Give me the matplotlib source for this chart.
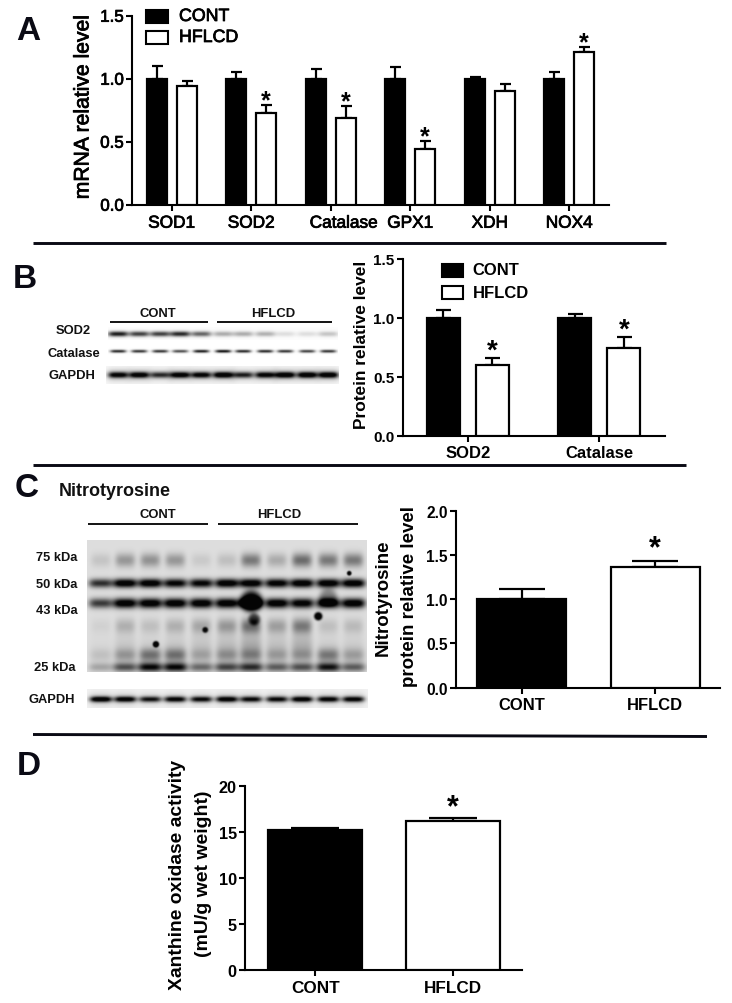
import numpy as np
import matplotlib
matplotlib.use("Agg")
import matplotlib.pyplot as plt
import matplotlib.patheffects as pe
from matplotlib.transforms import ScaledTranslation

plt.rcParams['font.family'] = ['Liberation Sans', 'DejaVu Sans']

# ---------- data ----------
groups = ['CONT', 'HFLCD']
a_genes = ['SOD1', 'SOD2', 'Catalase', 'GPX1', 'XDH', 'NOX4']
a_cont = [1.0, 1.0, 1.0, 1.0, 1.0, 1.0]
a_cont_top = [1.10, 1.05, 1.075, 1.09, 1.01, 1.055]
a_hflcd = [0.945, 0.73, 0.69, 0.44, 0.905, 1.21]
a_hflcd_top = [0.985, 0.79, 0.78, 0.505, 0.96, 1.25]
a_sig = [False, True, True, True, False, True]
a_ticks = [0.0, 0.5, 1.0, 1.5]

b_proteins = ['SOD2', 'Catalase']
b_cont = [1.0, 1.0]
b_cont_top = [1.065, 1.035]
b_hflcd = [0.60, 0.74]
b_hflcd_top = [0.66, 0.84]
b_sig = [True, True]
b_ticks = [0.0, 0.5, 1.0, 1.5]

c_values = [1.0, 1.365]
c_top = [1.11, 1.435]
c_sig = [False, True]
c_ticks = [0.0, 0.5, 1.0, 1.5, 2.0]

d_values = [15.2, 16.2]
d_top = [15.4, 16.5]
d_sig = [False, True]
d_ticks = [0, 5, 10, 15, 20]

# blot band strengths per lane
b_sod2 = [.9, .75, .75, .85, .6, .32, .32, .3, .12, .12, .22]
b_catalase = [.85, .8, .8, .7, .9, .95, .85, .85, .8, .75, .8]
b_gapdh = [.9, .95, .7, .95, .9, 1, .75, .9, 1, 1, 1]
n_75 = [.10, .28, .30, .28, .08, .12, .40, .20, .45, .40, .40]
n_50 = [.7, 1, 1, .9, .9, 1, 1, .95, 1, 1, 1]
n_43 = [.65, 1, 1, 1, 1, 1, 1, 1, .95, 1, 1]
n_35 = [.05, .18, .12, .18, .22, .28, .45, .25, .40, .12, .14]
n_25 = [.22, .55, .85, .85, .45, .6, .7, .5, .55, .8, .5]
n_gapdh = [1, .95, .8, .9, .85, .95, .85, .85, .95, .9, .9]

INK = '#0a0a14'
SEMI = [pe.withStroke(linewidth=0.55, foreground='black')]
W, H = 732, 1004
fig = plt.figure(figsize=(W / 100, H / 100), dpi=100)


def axes_px(l, t, r, b):
    return fig.add_axes([l / W, 1 - b / H, (r - l) / W, (b - t) / H])


def style(ax, ticks, tick_fs, lab_fs, weight, fmt, pad):
    for s in ['top', 'right']:
        ax.spines[s].set_visible(False)
    for s in ['left', 'bottom']:
        ax.spines[s].set_linewidth(1.5)
        ax.spines[s].set_color('black')
    ax.set_yticks(ticks)
    ax.set_yticklabels([fmt % t for t in ticks], fontsize=tick_fs, fontweight=weight)
    ax.tick_params(axis='both', width=1.5, length=4.5, pad=1.5, color='black')
    ax.tick_params(axis='x', labelsize=lab_fs, pad=pad)
    for t in ax.get_xticklabels():
        t.set_fontweight(weight)
    if weight == 'normal':
        for t in ax.get_xticklabels() + ax.get_yticklabels():
            t.set_path_effects(SEMI)
    ax.patch.set_alpha(0)


def bars(ax, xs, vals, tops, white, width, cap_px, lw_px=2.2):
    lw = lw_px * 0.72
    low = np.zeros(len(vals))
    up = np.array(tops) - np.array(vals)
    ax.errorbar(xs, vals, yerr=[low, up], fmt='none', ecolor='black', elinewidth=lw,
                capsize=cap_px * 0.72, capthick=lw, zorder=2)
    ax.bar(xs, vals, width=width, facecolor='white' if white else 'black',
           edgecolor='black', linewidth=lw, zorder=3)


def stars(ax, xs, tops, sig, gap_px, fs):
    for x, t, s in zip(xs, tops, sig):
        if s:
            ax.annotate('*', (x, t), xytext=(0, (gap_px - 0.6 * fs / 0.72) * 0.72),
                        textcoords='offset points', ha='center', va='baseline',
                        fontsize=fs, fontweight='bold', color='black', annotation_clip=False)


# ---------- Panel A ----------
axA = axes_px(132, 16.7, 609, 205.7)
xa = np.arange(len(a_genes))
bars(axA, xa - 0.188, a_cont, a_cont_top, False, 0.25, 5.5)
bars(axA, xa + 0.188, a_hflcd, a_hflcd_top, True, 0.25, 5.5)
axA.set_xlim(-0.5, 5.5)
axA.set_ylim(0, 1.5)
axA.set_xticks(xa)
axA.set_xticklabels(a_genes)
style(axA, a_ticks, 12.2, 12.4, 'normal', '%.1f', 3.4)
for lab, name in zip(axA.get_xticklabels(), a_genes):
    if name == 'Catalase':
        lab.set_transform(lab.get_transform() + ScaledTranslation(13 / 100, 0, fig.dpi_scale_trans))
stars(axA, xa + 0.188, a_hflcd_top, a_sig, 13, 18)

# ---------- Panel B chart ----------
axB = axes_px(402.7, 259.7, 665, 436.7)
xb = np.arange(len(b_proteins))
bars(axB, xb - 0.187, b_cont, b_cont_top, False, 0.25, 7.5)
bars(axB, xb + 0.187, b_hflcd, b_hflcd_top, True, 0.25, 7.5)
axB.set_xlim(-0.496, 1.5)
axB.set_ylim(0, 1.5)
axB.set_xticks(xb)
axB.set_xticklabels(b_proteins)
style(axB, b_ticks, 11, 12, 'bold', '%.1f', 2.4)
stars(axB, xb + 0.187, b_hflcd_top, b_sig, 16.5, 20)

# ---------- Panel C chart ----------
axC = axes_px(456, 511.7, 720, 688.7)
xc = np.arange(len(groups))
bars(axC, xc[:1], c_values[:1], c_top[:1], False, 0.667, 22.8)
bars(axC, xc[1:], c_values[1:], c_top[1:], True, 0.667, 22.8)
axC.set_xlim(-0.492, 1.487)
axC.set_ylim(0, 2.0)
axC.set_xticks(xc)
axC.set_xticklabels(groups)
style(axC, c_ticks, 11.2, 11.9, 'bold', '%.1f', 2.2)
stars(axC, xc, c_top, c_sig, 22.5, 22)

# ---------- Panel D chart ----------
axD = axes_px(245, 786.7, 522, 971)
xd = np.arange(len(groups))
bars(axD, xd[:1], d_values[:1], d_top[:1], False, 0.68, 24)
bars(axD, xd[1:], d_values[1:], d_top[1:], True, 0.68, 24)
axD.set_xlim(-0.508, 1.5)
axD.set_ylim(0, 20)
axD.set_xticks(xd)
axD.set_xticklabels(groups)
style(axD, d_ticks, 11.7, 12.3, 'bold', '%d', 2.4)
stars(axD, xd, d_top, d_sig, 21, 22)

# ---------- overlay in pixel coordinates ----------
ov = fig.add_axes([0, 0, 1, 1], zorder=-1)
ov.set_xlim(0, W)
ov.set_ylim(H, 0)
ov.axis('off')
top = fig.add_axes([0, 0, 1, 1], zorder=10)
top.set_xlim(0, W)
top.set_ylim(H, 0)
top.axis('off')
top.patch.set_alpha(0)


def blot(x0, x1, y0, y1, layers, bg=0.0, spots=()):
    X, Y = np.meshgrid(np.arange(x0, x1, 0.5), np.arange(y0, y1, 0.5))
    img = np.full(X.shape, float(bg))
    for lanes, strengths, cy, w, h in layers:
        for cx, s in zip(lanes, strengths):
            img += s * np.exp(-((X - cx) / w) ** 4 - ((Y - cy) / h) ** 2)
    for cx, cy, r, s in spots:
        img += s * np.exp(-(((X - cx) ** 2 + (Y - cy) ** 2) / r ** 2) ** 2)
    ov.imshow(1 - np.clip(img, 0, 0.98), cmap='gray', vmin=0, vmax=1, aspect='auto',
              extent=[x0, x1, y1, y0], interpolation='bilinear')
    ov.set_xlim(0, W)
    ov.set_ylim(H, 0)


# Panel B blot
lanes_b = [118, 139, 160, 180, 201, 223, 243, 265, 285, 307, 328]
blot(108, 338, 328, 341, [(lanes_b, b_sod2, 334.7, 10, 2.6)], bg=0.01)
blot(108, 338, 346, 358, [(lanes_b, b_catalase, 352, 8, 1.5)])
blot(106, 339, 367, 385, [(lanes_b, b_gapdh, 375.7, 10, 3.0),
                          (lanes_b, [v * 0.2 for v in b_gapdh], 375.7, 12, 7)], bg=0.02)

# Panel C blot
lanes_c = [100.7, 125, 150, 175, 201, 226.7, 250.7, 276.7, 301.7, 328, 353]
blot(87, 367, 541, 673, [
    (lanes_c, n_75, 561, 10, 7),
    (lanes_c, n_50, 584, 12, 4.5),
    (lanes_c, n_43, 604, 12, 5.0),
    (lanes_c, n_35, 627, 10, 8),
    (lanes_c, [v * 0.4 for v in n_35], 645, 11, 10),
    (lanes_c, [v * 0.5 for v in n_25], 656, 11, 7),
    (lanes_c, n_25, 668, 12, 4.5),
], bg=0.13, spots=[(318, 617, 4.2, 1), (155.7, 645, 3.2, 1), (205, 630.7, 3, 0.7), (349, 574, 2.4, 0.9),
                   (251, 602, 11, 0.9), (254, 620, 6, 0.55), (328, 598, 9, 0.35)])
blot(87, 368, 690, 709, [(lanes_c, n_gapdh, 700, 11, 2.8),
                         (lanes_c, [v * 0.15 for v in n_gapdh], 700, 12, 7)], bg=0.05)

# dividers
for xs, ys in [((33, 666), (243.5, 243.5)), ((33, 686), (466, 466)), ((33, 707), (735.5, 737.5))]:
    top.plot(xs, ys, color=INK, lw=2.1, solid_capstyle='butt')

# blot group rules
for xs, y in [((110, 208), 323), ((217, 332), 323), ((88, 208), 525), ((218, 358), 525)]:
    top.plot(xs, (y, y), color='black', lw=1.3, solid_capstyle='butt')

# panel letters
for s, x, y in [('A', 16, 40), ('B', 13, 288), ('C', 15, 497), ('D', 17, 775)]:
    top.text(x, y, s, fontsize=24, fontweight='bold', color=INK, ha='left', va='baseline')

# legends
for x0, x1, ys, tx, fs in [(146, 168, (17.5, 38.5), 179, 12.8), (442, 463, (271, 293.5), 472.7, 12)]:
    for y, g, white in zip(ys, groups, (False, True)):
        top.fill([x0, x1, x1, x0], [y - 6.5, y - 6.5, y + 6.5, y + 6.5],
                 facecolor='white' if white else 'black', edgecolor='black', lw=1.5)
        t = top.text(tx, y, g, fontsize=fs, fontweight='normal' if tx < 200 else 'bold',
                     ha='left', va='center')
        if tx < 200:
            t.set_path_effects(SEMI)

# y axis titles
top.text(83, 108, 'mRNA relative level', rotation=90, fontsize=15.2, ha='center', va='center',
         path_effects=SEMI)
top.text(361, 345, 'Protein relative level', rotation=90, fontsize=12.4, fontweight='bold',
         ha='center', va='center')
top.text(383, 598, 'Nitrotyrosine', rotation=90, fontsize=13.5, fontweight='bold', ha='center', va='center')
top.text(409, 597, 'protein relative level', rotation=90, fontsize=13.5, fontweight='bold', ha='center', va='center')
top.text(177, 875, 'Xanthine oxidase activity', rotation=90, fontsize=13.9, fontweight='bold', ha='center', va='center')
top.text(203, 874, '(mU/g wet weight)', rotation=90, fontsize=14.0, fontweight='bold', ha='center', va='center')

# blot labels
for s, x, y, fs in [('CONT', 158, 314, 9.4), ('HFLCD', 273, 314, 9.4), ('SOD2', 73, 331, 9.3),
                    ('Catalase', 74, 354, 9.3), ('GAPDH', 72, 376, 9.4),
                    ('CONT', 158, 515, 9.4), ('HFLCD', 279, 515, 9.4),
                    ('75 kDa', 57, 558, 9.3), ('50 kDa', 57, 585, 9.3), ('43 kDa', 57, 611, 9.3),
                    ('25 kDa', 55, 668, 9.3), ('GAPDH', 52, 700, 9.3)]:
    top.text(x, y, s, fontsize=fs, fontweight='bold', ha='center', va='center', color='#111111')
top.text(59, 492, 'Nitrotyrosine', fontsize=13, fontweight='bold', ha='left', va='center', color='#111111')

fig.savefig('out.png', dpi=100, facecolor='white')
